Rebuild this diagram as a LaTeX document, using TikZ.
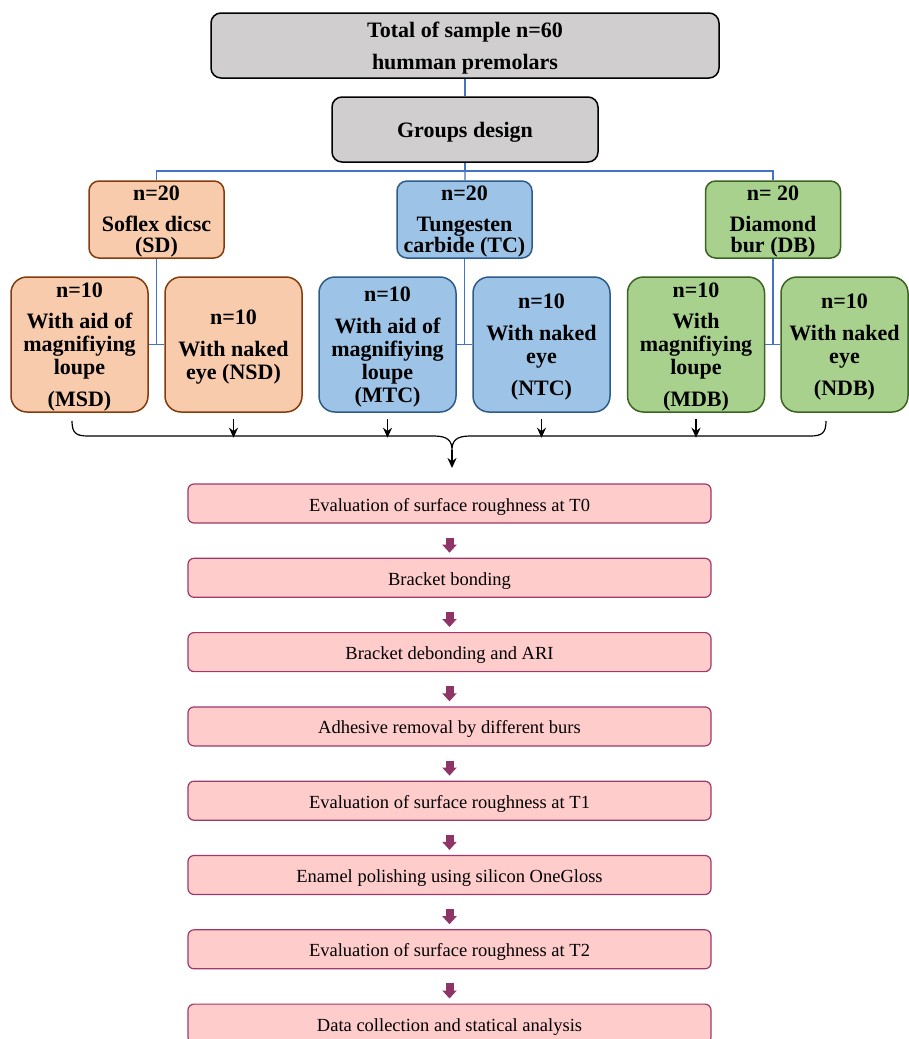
\documentclass[tikz,border=0pt]{standalone}
\usepackage{fontspec}
\setmainfont{Liberation Serif}
\usetikzlibrary{arrows.meta}

\definecolor{grayfill}{HTML}{D0CECE}
\definecolor{sdfill}{HTML}{F8CBAD}
\definecolor{sddraw}{HTML}{843C0C}
\definecolor{tcfill}{HTML}{9DC3E6}
\definecolor{tcdraw}{HTML}{2E5C8A}
\definecolor{dbfill}{HTML}{A9D18E}
\definecolor{dbdraw}{HTML}{3B6321}
\definecolor{linkblue}{HTML}{4472C4}
\definecolor{stepfill}{HTML}{FFCCCC}
\definecolor{stepdraw}{HTML}{A0386A}
\definecolor{steparrow}{HTML}{8E3466}

\tikzset{
	box/.style={rounded corners=10pt, line width=1.5pt, align=center, inner sep=0pt,
		font=\bfseries\fontsize{22}{23}\selectfont, text depth=0pt},
	headbox/.style={box, draw=black, fill=grayfill},
	sdbox/.style={box, draw=sddraw, fill=sdfill},
	tcbox/.style={box, draw=tcdraw, fill=tcfill},
	dbbox/.style={box, draw=dbdraw, fill=dbfill},
	grpsize/.style={minimum width=135, minimum height=77},
	subsize/.style={minimum width=137, minimum height=135, rounded corners=16pt},
	link/.style={draw=linkblue, line width=1.2pt},
	smallarr/.style={draw=black, line width=1.8pt, -{Stealth[length=10pt, width=9pt]}},
	stepbox/.style={draw=stepdraw, fill=stepfill, rounded corners=6pt, line width=1.2pt,
		minimum width=523, minimum height=39, inner sep=0pt, text height=15pt, text depth=0pt,
		font=\fontsize{18.5}{21}\selectfont},
	steparr/.style={draw=steparrow, line width=8pt, -{Triangle[length=8pt 0 0, width=14pt 0 0]},
		shorten <=14pt, shorten >=5pt}
}

\begin{document}
\begin{tikzpicture}[x=1pt, y=-1pt]
\useasboundingbox (0,0) rectangle (909,1039);

% Cabecera
\node[headbox, minimum width=508, minimum height=65, font=\bfseries\fontsize{22}{32}\selectfont]
	(total) at (465,45.5) {Total of sample n=60\\humman premolars};
\node[headbox, minimum width=266, minimum height=65] (design) at (465,129.5) {Groups design};

% Grupos
\node[sdbox, grpsize] (SD) at (156.5,219.5) {n=20\\[8pt]Soflex dicsc\\[-2pt](SD)};
\node[tcbox, grpsize] (TC) at (464.5,219.5) {n=20\\[8pt]Tungesten\\[-2pt]carbide (TC)};
\node[dbbox, grpsize] (DB) at (773,219.5) {n= 20\\[8pt]Diamond\\[-2pt]bur (DB)};

% Subgrupos
\node[sdbox, subsize] (MSD) at (79.5,344.5) {n=10\\[8pt]With aid of\\magnifiying\\loupe\\[9pt](MSD)};
\node[sdbox, subsize] (NSD) at (233.5,344.5) {n=10\\[9pt]With naked\\eye (NSD)};
\node[tcbox, subsize] (MTC) at (387.5,344.5) {n=10\\[9pt]With aid of\\magnifiying\\loupe\\(MTC)};
\node[tcbox, subsize] (NTC) at (541.5,344.5) {n=10\\[9pt]With naked\\eye\\[9pt](NTC)};
\node[dbbox, subsize] (MDB) at (696,344.5) {n=10\\[8pt]With\\magnifiying\\loupe\\[9pt](MDB)};
\node[dbbox, subsize, minimum width=127] (NDB) at (844.5,344.5) {n=10\\[9pt]With naked\\eye\\[9pt](NDB)};

% Conexiones
\coordinate (bus) at (465,171);
\draw[link] (total) -- (design);
\draw[link] (design) -- (bus);
\draw[link] (SD.north) -- (SD.north |- bus) -- (DB.north |- bus) -- (DB.north);
\draw[link] (bus) -- (TC);

\draw[link] (SD) -- (SD |- MSD.east);
\draw[link] (MSD.east) -- (NSD.west);
\draw[link] (TC) -- (TC |- MTC.east);
\draw[link] (MTC.east) -- (NTC.west);
\draw[link] (DB) -- (DB |- MDB.east);
\draw[link] (MDB.east) -- (NDB.west);

% Llave
\foreach \n in {NSD, MTC, NTC, MDB}
	\draw[smallarr] ([yshift=-6pt]\n.south) -- ++(0,19);

\coordinate (tip) at (452,450);
\draw[line width=1.2pt] (72,421) .. controls (72,433) and (76,436) .. (88,436) -- (434,436)
	.. controls (448,436) and (452,441) .. (tip)
	.. controls (452,441) and (456,436) .. (470,436) -- (810,436)
	.. controls (822,436) and (826,433) .. (826,421);
\draw[smallarr] (tip) -- ++(0,18);

% Etapas
\foreach \txt [count=\i] in {Evaluation of surface roughness at T0, Bracket bonding,
	Bracket debonding and ARI, Adhesive removal by different burs,
	Evaluation of surface roughness at T1, Enamel polishing using silicon OneGloss,
	Evaluation of surface roughness at T2, Data collection and statical analysis}
	\node[stepbox] (s\i) at (449.5,{429.2+74.3*\i}) {\txt};

\foreach \i [count=\j from 2] in {1,...,7}
	\draw[steparr] (s\i) -- (s\j);

\end{tikzpicture}
\end{document}
